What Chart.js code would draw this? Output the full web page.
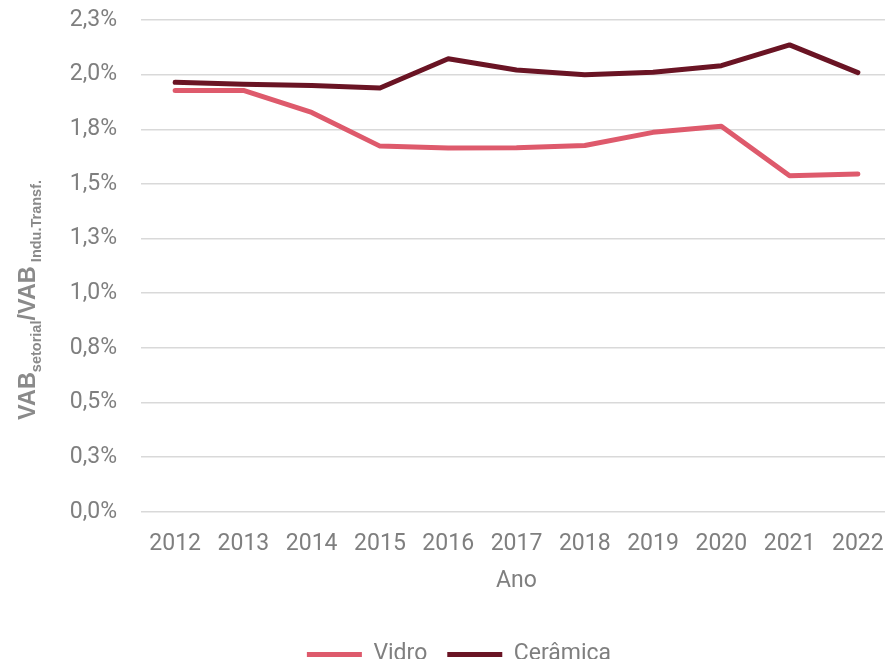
<!DOCTYPE html>
<html lang="pt">
<head>
    <meta charset="UTF-8">
    <title>VAB setorial / VAB Indústria de Transformação</title>
    <script src="https://cdn.jsdelivr.net/npm/chart.js"></script>
    <style>
        html, body {
            margin: 0;
            padding: 0;
            background: #fff;
            overflow: hidden;
        }
        #wrap {
            width: 892px;
            height: 659px;
        }
    </style>
</head>
<body>
    <div id="wrap"><canvas id="chart"></canvas></div>

    <script>
        const anos = ['2012', '2013', '2014', '2015', '2016', '2017', '2018', '2019', '2020', '2021', '2022'];
        const vidro = [1.928, 1.928, 1.827, 1.673, 1.664, 1.665, 1.676, 1.736, 1.764, 1.537, 1.546];
        const ceramica = [1.965, 1.956, 1.950, 1.939, 2.073, 2.021, 2.000, 2.011, 2.041, 2.136, 2.009];
        const yTickLabels = ['0,0%', '0,3%', '0,5%', '0,8%', '1,0%', '1,3%', '1,5%', '1,8%', '2,0%', '2,3%'];

        const gray = '#7f7f7f';
        const fontFamily = 'Roboto, "DejaVu Sans", sans-serif';

        // legend tweaks + y axis title with subscripts, drawn on the canvas
        const yTitlePlugin = {
            id: 'yTitle',
            beforeInit(chart) {
                // shorter legend box so it sits near the bottom edge
                const fit = chart.legend.fit;
                chart.legend.fit = function () {
                    fit.call(this);
                    this.height = 36;
                };
            },
            afterLayout(chart) {
                chart.legend.left += 13;
                chart.legend.right += 13;
            },
            afterDraw(chart) {
                const ctx = chart.ctx;
                const parts = [
                    { text: 'VAB', size: 23.5, sub: false },
                    { text: 'setorial', size: 14.5, sub: true },
                    { text: '/VAB', size: 23.5, sub: false },
                    { text: ' Indu.Transf.', size: 14.5, sub: true }
                ];
                ctx.save();
                let total = 0;
                parts.forEach(p => {
                    ctx.font = 'bold ' + p.size + 'px "Liberation Sans", Arial, sans-serif';
                    p.w = ctx.measureText(p.text).width;
                    total += p.w;
                });
                ctx.translate(35, 300 + total / 2);
                ctx.rotate(-Math.PI / 2);
                ctx.fillStyle = '#8a8a8a';
                ctx.textBaseline = 'alphabetic';
                let x = 0;
                parts.forEach(p => {
                    ctx.font = 'bold ' + p.size + 'px "Liberation Sans", Arial, sans-serif';
                    ctx.fillText(p.text, x, p.sub ? 6 : 0);
                    x += p.w;
                });
                ctx.restore();
            }
        };

        const ctx = document.getElementById('chart').getContext('2d');
        new Chart(ctx, {
            type: 'line',
            data: {
                labels: anos,
                datasets: [
                    {
                        label: 'Vidro',
                        data: vidro,
                        borderColor: '#de5a6c',
                        backgroundColor: '#de5a6c',
                        borderWidth: 5,
                        borderCapStyle: 'round',
                        borderJoinStyle: 'round',
                        pointRadius: 0,
                        tension: 0
                    },
                    {
                        label: 'Cerâmica',
                        data: ceramica,
                        borderColor: '#6a1424',
                        backgroundColor: '#6a1424',
                        borderWidth: 5,
                        borderCapStyle: 'round',
                        borderJoinStyle: 'round',
                        pointRadius: 0,
                        tension: 0
                    }
                ]
            },
            options: {
                responsive: true,
                maintainAspectRatio: false,
                animation: false,
                layout: {
                    padding: { top: 20, left: 0, right: 0, bottom: 0 }
                },
                scales: {
                    x: {
                        offset: true,
                        grid: { display: false, drawTicks: false },
                        border: { display: false },
                        ticks: {
                            color: gray,
                            padding: 19,
                            maxRotation: 0,
                            font: { family: fontFamily, size: 23 }
                        },
                        title: {
                            display: true,
                            text: 'Ano',
                            color: gray,
                            padding: { top: -10, bottom: 28 },
                            font: { family: fontFamily, size: 23 }
                        },
                        afterFit(scale) {
                            scale.paddingLeft = 0;
                            scale.paddingRight = 0;
                        }
                    },
                    y: {
                        min: 0,
                        max: 2.25,
                        grid: {
                            color: '#d9d9d9',
                            lineWidth: 1.5,
                            drawTicks: false
                        },
                        border: { display: false },
                        ticks: {
                            stepSize: 0.25,
                            color: gray,
                            padding: 24,
                            font: { family: fontFamily, size: 23 },
                            callback: (value, index) => yTickLabels[index]
                        },
                        afterFit(scale) {
                            scale.width = 141;
                            scale.paddingTop = 0;
                            scale.paddingBottom = 0;
                        }
                    }
                },
                plugins: {
                    legend: {
                        position: 'bottom',
                        labels: {
                            usePointStyle: true,
                            pointStyle: 'line',
                            pointStyleWidth: 55,
                            boxHeight: 5,
                            color: gray,
                            padding: 20,
                            font: { family: fontFamily, size: 23 }
                        }
                    },
                    tooltip: { enabled: false }
                }
            },
            plugins: [yTitlePlugin]
        });
    </script>
</body>
</html>
